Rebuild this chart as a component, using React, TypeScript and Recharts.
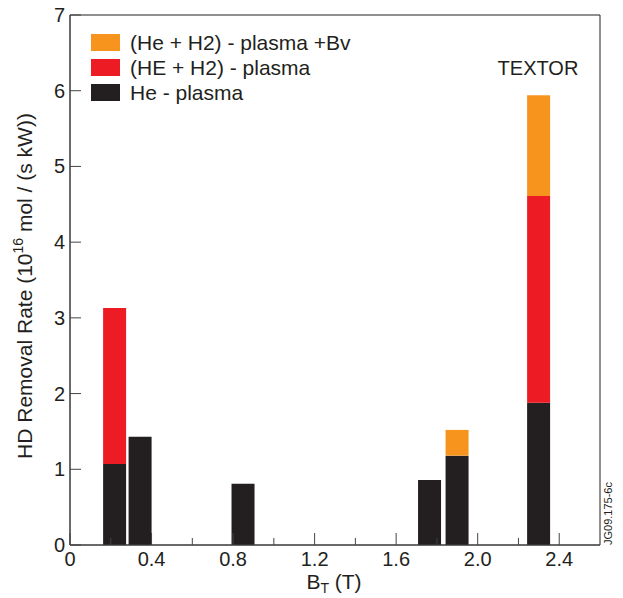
import React from 'react';
import { ComposedChart, Bar, XAxis, YAxis, ReferenceArea } from 'recharts';

// toroidal field B_T (T) of each shot group
const bField = [0.22, 0.345, 0.85, 1.765, 1.9, 2.3];
// stack tops (10^16 mol / (s kW))
const hePlasma = [1.07, 1.43, 0.81, 0.86, 1.18, 1.88];
const heH2Plasma = [3.13, null, null, null, null, 4.61];
const heH2BvPlasma = [null, null, null, null, 1.52, 5.94];

const xTicks = [0, 0.2, 0.4, 0.6, 0.8, 1.0, 1.2, 1.4, 1.6, 1.8, 2.0, 2.2, 2.4];
const yTicks = [0, 1, 2, 3, 4, 5, 6, 7];

const BLACK = '#231f20';
const RED = '#ed1c24';
const ORANGE = '#f7941d';
const AXIS = '#444';
const FONT = '"Liberation Sans", Arial, Helvetica, sans-serif';

const legendItems = [
  { label: '(He + H2) - plasma +Bv', color: ORANGE },
  { label: '(HE + H2) - plasma', color: RED },
  { label: 'He - plasma', color: BLACK },
];

// the library stacks increments, so turn the read tops into segments
const data = bField.map((b, i) => {
  const he = hePlasma[i];
  const h2Top = heH2Plasma[i];
  const bvTop = heH2BvPlasma[i];
  return {
    b,
    he,
    h2: h2Top != null ? +(h2Top - he).toFixed(3) : null,
    bv: bvTop != null ? +(bvTop - (h2Top ?? he)).toFixed(3) : null,
  };
});

const XTick = (props: any) => {
  const { x, y, payload } = props;
  const v = payload.value as number;
  const major = Math.round(v * 10) % 4 === 0;
  const label = v === 0 ? '0' : v.toFixed(1);
  return (
    <g>
      <line x1={x} x2={x} y1={y} y2={y - (major ? 12 : 7)} stroke={AXIS} strokeWidth={1} />
      {major && (
        <text x={x} y={y + 21} textAnchor="middle" fontSize={20} fill={BLACK} fontFamily={FONT}>
          {label}
        </text>
      )}
    </g>
  );
};

const YTick = (props: any) => {
  const { x, y, payload } = props;
  return (
    <g>
      <line x1={x} x2={x + 11} y1={y} y2={y} stroke={AXIS} strokeWidth={1} />
      <text x={x - 5} y={y + 7} textAnchor="end" fontSize={20} fill={BLACK} fontFamily={FONT}>
        {payload.value}
      </text>
    </g>
  );
};

const W = 623;
const H = 598;

export default function App() {
  return (
    <div style={{ position: 'absolute', left: 0, top: 0, width: W, height: H, background: '#fff' }}>
      <ComposedChart
        width={W}
        height={H}
        data={data}
        margin={{ top: 15, right: 23, left: 10, bottom: 23 }}
      >
        <XAxis
          dataKey="b"
          type="number"
          domain={[0, 2.6]}
          ticks={xTicks}
          interval={0}
          height={30}
          tickSize={0}
          tickMargin={0}
          tickLine={false}
          axisLine={{ stroke: AXIS }}
          tick={<XTick />}
          allowDataOverflow
        />
        <YAxis
          type="number"
          domain={[0, 7]}
          ticks={yTicks}
          interval={0}
          width={60}
          tickSize={0}
          tickMargin={0}
          tickLine={false}
          axisLine={{ stroke: AXIS }}
          tick={<YTick />}
          allowDataOverflow
        />
        <ReferenceArea x1={0} x2={2.6} y1={0} y2={7} fill="none" stroke={BLACK} strokeWidth={1} ifOverflow="visible" />
        <Bar dataKey="he" stackId="s" fill={BLACK} barSize={23} isAnimationActive={false} />
        <Bar dataKey="h2" stackId="s" fill={RED} barSize={23} isAnimationActive={false} />
        <Bar dataKey="bv" stackId="s" fill={ORANGE} barSize={23} isAnimationActive={false} />
      </ComposedChart>
      <svg
        width={W}
        height={H}
        style={{ position: 'absolute', left: 0, top: 0, pointerEvents: 'none' }}
        fontFamily={FONT}
      >
        {legendItems.map((it, i) => (
          <g key={it.label}>
            <rect x={91} y={34 + i * 25} width={29} height={17} fill={it.color} />
            <text x={130} y={50 + i * 25} fontSize={21} fill={BLACK}>
              {it.label}
            </text>
          </g>
        ))}
        <text x={538} y={75} textAnchor="middle" fontSize={20} fill={BLACK}>
          TEXTOR
        </text>
        <text
          transform="translate(32, 286) rotate(-90)"
          textAnchor="middle"
          fontSize={21}
          fill={BLACK}
        >
          HD Removal Rate (10
          <tspan dy={-9} fontSize={14}>16</tspan>
          <tspan dy={9}> mol / (s kW))</tspan>
        </text>
        <text x={334} y={589} textAnchor="middle" fontSize={21} fill={BLACK}>
          B<tspan dy={4} fontSize={14}>T</tspan>
          <tspan dy={-4}> (T)</tspan>
        </text>
        <text transform="translate(612, 545) rotate(-90)" fontSize={11} fill={BLACK}>
          JG09.175-6c
        </text>
      </svg>
    </div>
  );
}
